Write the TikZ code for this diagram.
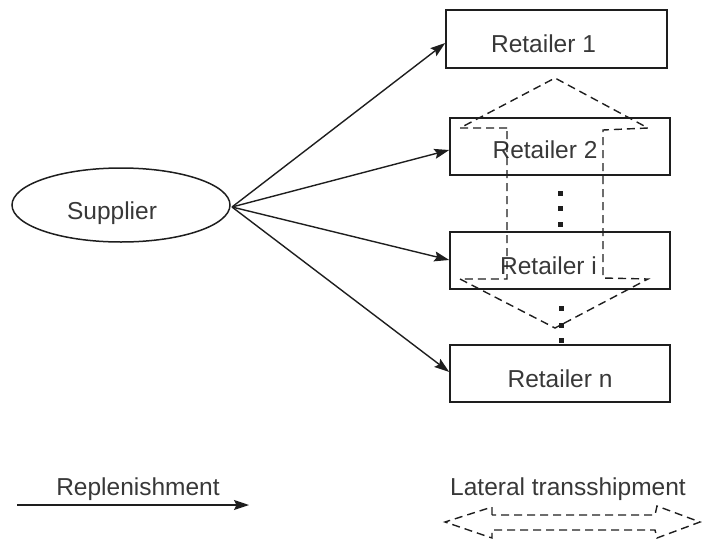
\documentclass[tikz,border=0pt]{standalone}
\usepackage{fontspec}
\setmainfont{Liberation Sans}
\usetikzlibrary{arrows.meta,shapes.geometric}
\definecolor{txt}{HTML}{383838}
\definecolor{ln}{HTML}{1E1E1E}
\begin{document}
\begin{tikzpicture}[x=1pt,y=-1pt,
  box/.style={draw=ln,line width=1.5pt,minimum width=220pt,minimum height=57pt,inner sep=0pt},
  lbl/.style={text=txt,font=\fontsize{24.5}{28}\selectfont,inner sep=0pt,text height=17pt,text depth=0pt},
  repl/.style={draw=ln,line width=1.4pt,-{Stealth[length=15pt,width=10pt,inset=2.5pt]}},
  lat/.style={draw=ln,line width=1.4pt,dash pattern=on 8pt off 5pt},
  dotmark/.style={fill=ln,minimum size=5pt,inner sep=0pt}]
\useasboundingbox (0,0) rectangle (702,539);
% supplier
\node[draw=ln,line width=1.5pt,ellipse,minimum width=218pt,minimum height=74pt,inner sep=0pt] (sup) at (121,205) {};
\node[lbl] at ([xshift=-9pt,yshift=-6pt]sup.center) {Supplier};
\coordinate (o) at (232,207);
% retailers
\node[box,minimum width=221pt,minimum height=58pt] (r1) at (556.5,39) {};
\node[box] (r2) at (560,146.5) {};
\node[box] (ri) at (560,260.5) {};
\node[box] (rn) at (560,373.5) {};
\node[lbl] at ([xshift=-13pt,yshift=-4.5pt]r1.center) {Retailer 1};
\node[lbl] at ([xshift=-15pt,yshift=-3.5pt]r2.center) {Retailer 2};
\node[lbl] at ([xshift=-11.5pt,yshift=-5pt]ri.center) {Retailer i};
\node[lbl] at ([xshift=0pt,yshift=-5pt]rn.center) {Retailer n};
% replenishment arrows
\draw[repl] (o) -- ([yshift=-4pt]r1.west);
\draw[repl] (o) -- ([yshift=-3.5pt]r2.west);
\draw[repl] (o) -- ([yshift=0.5pt]ri.west);
\draw[repl] (o) -- ([yshift=1.5pt]rn.west);
% dots
\node[dotmark] (d1) at (560,193) {};
\node[dotmark] (d2) at (560,208.5) {};
\node[dotmark] (d3) at (560,224) {};
\node[dotmark] (d4) at (561,308) {};
\node[dotmark] (d5) at (561,325) {};
\node[dotmark] (d6) at (561,340) {};
% lateral transshipment (vertical double arrow outline)
\draw[lat] (507,128) -- (460,128) -- (555,78) -- (648,128) -- (603,130)
  -- (603,278) -- (648,279) -- (555,328) -- (460,279) -- (507,279) -- cycle;
% legend
\node[lbl] (lr) at (138,486.5) {Replenishment};
\coordinate (la) at (17,505);
\coordinate (lb) at (249,505);
\draw[repl] (la) -- (lb);
\node[lbl] (ll) at (568,486.5) {Lateral transshipment};
\draw[lat] (492,515) -- (492,507) -- (445,522) -- (492,538) -- (492,530)
  -- (655,530) -- (657,538) -- (700,522) -- (657,506) -- (655,515) -- cycle;
\end{tikzpicture}
\end{document}
